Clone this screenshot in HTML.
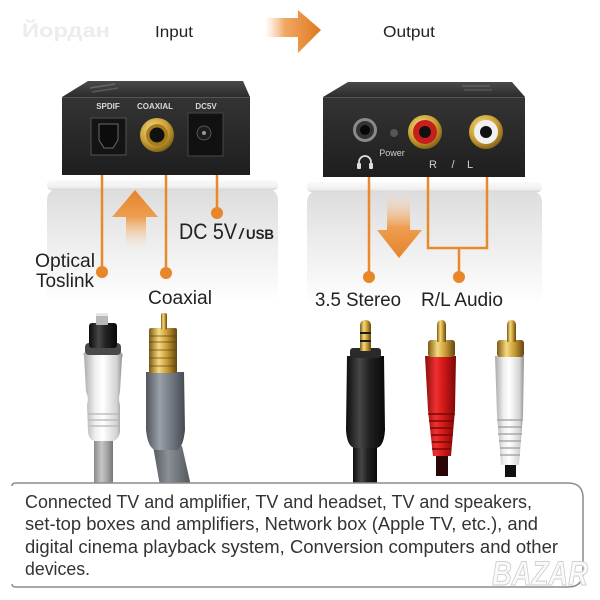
<!DOCTYPE html>
<html><head><meta charset="utf-8">
<style>
html,body{margin:0;padding:0;background:#fff;}
svg{display:block;}
text{font-family:"Liberation Sans","DejaVu Sans",sans-serif;}
</style></head><body>
<svg width="600" height="600" viewBox="0 0 600 600" xmlns="http://www.w3.org/2000/svg">
<defs>
 <linearGradient id="panel" x1="0" y1="0" x2="0" y2="1">
  <stop offset="0" stop-color="#dcdcdc"/>
  <stop offset="0.35" stop-color="#e9e9e9"/>
  <stop offset="1" stop-color="#ffffff"/>
 </linearGradient>
 <linearGradient id="lip" x1="0" y1="0" x2="0" y2="1">
  <stop offset="0" stop-color="#fafafa"/>
  <stop offset="0.7" stop-color="#f0f0f0"/>
  <stop offset="1" stop-color="#d6d6d6"/>
 </linearGradient>
 <linearGradient id="arrR" x1="0" y1="0" x2="1" y2="0">
  <stop offset="0" stop-color="#f6c393" stop-opacity="0"/>
  <stop offset="0.35" stop-color="#f0a865"/>
  <stop offset="1" stop-color="#e0781c"/>
 </linearGradient>
 <linearGradient id="arrUp" x1="0" y1="0" x2="0" y2="1">
  <stop offset="0" stop-color="#e5842a"/>
  <stop offset="0.45" stop-color="#ee9d50"/>
  <stop offset="1" stop-color="#fbe3cc" stop-opacity="0"/>
 </linearGradient>
 <linearGradient id="arrDown" x1="0" y1="1" x2="0" y2="0">
  <stop offset="0" stop-color="#e5842a"/>
  <stop offset="0.45" stop-color="#ee9d50"/>
  <stop offset="1" stop-color="#fbe3cc" stop-opacity="0"/>
 </linearGradient>
 <linearGradient id="front" x1="0" y1="0" x2="0" y2="1">
  <stop offset="0" stop-color="#343434"/>
  <stop offset="1" stop-color="#1e1e1e"/>
 </linearGradient>
 <linearGradient id="topface" x1="0" y1="0" x2="0" y2="1">
  <stop offset="0" stop-color="#4a4a4a"/>
  <stop offset="1" stop-color="#2c2c2c"/>
 </linearGradient>
 <radialGradient id="gold" cx=".4" cy=".35" r=".7">
  <stop offset="0" stop-color="#f7e08a"/>
  <stop offset=".6" stop-color="#caa034"/>
  <stop offset="1" stop-color="#7a5a14"/>
 </radialGradient>
 <linearGradient id="cylWhite" x1="0" x2="1" y1="0" y2="0">
  <stop offset="0" stop-color="#a9a9a9"/>
  <stop offset=".3" stop-color="#efefef"/>
  <stop offset=".5" stop-color="#ffffff"/>
  <stop offset=".85" stop-color="#d2d2d2"/>
  <stop offset="1" stop-color="#8e8e8e"/>
 </linearGradient>
 <linearGradient id="cylGray" x1="0" x2="1" y1="0" y2="0">
  <stop offset="0" stop-color="#50555c"/>
  <stop offset=".35" stop-color="#9aa0a8"/>
  <stop offset=".6" stop-color="#7a8088"/>
  <stop offset="1" stop-color="#454a51"/>
 </linearGradient>
 <linearGradient id="cylBlack" x1="0" x2="1" y1="0" y2="0">
  <stop offset="0" stop-color="#0c0c0c"/>
  <stop offset=".35" stop-color="#474747"/>
  <stop offset=".6" stop-color="#222"/>
  <stop offset="1" stop-color="#080808"/>
 </linearGradient>
 <linearGradient id="cylRed" x1="0" x2="1" y1="0" y2="0">
  <stop offset="0" stop-color="#8a0d0d"/>
  <stop offset=".35" stop-color="#ee3030"/>
  <stop offset=".6" stop-color="#d21818"/>
  <stop offset="1" stop-color="#7a0808"/>
 </linearGradient>
 <linearGradient id="cylGold" x1="0" x2="1" y1="0" y2="0">
  <stop offset="0" stop-color="#7d5a12"/>
  <stop offset=".35" stop-color="#f5da80"/>
  <stop offset=".65" stop-color="#c89a35"/>
  <stop offset="1" stop-color="#634610"/>
 </linearGradient>
 <linearGradient id="cylCable" x1="0" x2="1" y1="0" y2="0">
  <stop offset="0" stop-color="#8a8a8a"/>
  <stop offset=".4" stop-color="#c6c6c6"/>
  <stop offset=".7" stop-color="#a3a3a3"/>
  <stop offset="1" stop-color="#777"/>
 </linearGradient>
 <linearGradient id="cylCoaxCable" x1="0" x2="1" y1="0" y2="0">
  <stop offset="0" stop-color="#555a61"/>
  <stop offset=".4" stop-color="#8b9098"/>
  <stop offset="1" stop-color="#50555b"/>
 </linearGradient>
</defs>

<!-- header -->
<text x="22" y="37" font-size="19" font-weight="bold" fill="#ececec" textLength="88" lengthAdjust="spacingAndGlyphs">Йордан</text>
<text x="155" y="37" font-size="16" fill="#222" textLength="38" lengthAdjust="spacingAndGlyphs">Input</text>
<text x="383" y="37" font-size="16" fill="#222" textLength="52" lengthAdjust="spacingAndGlyphs">Output</text>
<path d="M265,18 L298,18 L298,10 L321,30 L298,53 L298,37 L265,37 Z" fill="url(#arrR)"/>

<!-- panels -->
<rect x="47" y="188" width="231" height="115" rx="12" fill="url(#panel)"/>
<rect x="47" y="180" width="231" height="10" rx="4" fill="url(#lip)"/>
<rect x="307" y="190" width="235" height="115" rx="12" fill="url(#panel)"/>
<rect x="307" y="182" width="235" height="10" rx="4" fill="url(#lip)"/>

<!-- left device -->
<polygon points="62,97 88,81 243,81 250,97" fill="url(#topface)"/>
<line x1="90" y1="88" x2="115" y2="84" stroke="#666" stroke-width="1.5"/>
<line x1="92" y1="92" x2="118" y2="88" stroke="#5a5a5a" stroke-width="1.5"/>
<rect x="62" y="97" width="188" height="78" fill="url(#front)"/>
<line x1="62" y1="97.5" x2="250" y2="97.5" stroke="#555" stroke-width="1"/>
<text x="108" y="109" font-size="8" font-weight="bold" fill="#d8d8d8" text-anchor="middle">SPDIF</text>
<text x="155" y="109" font-size="8" font-weight="bold" fill="#d8d8d8" text-anchor="middle">COAXIAL</text>
<text x="206" y="109" font-size="8" font-weight="bold" fill="#d8d8d8" text-anchor="middle">DC5V</text>
<rect x="91" y="118" width="35" height="37" fill="#141414" stroke="#4a4a4a" stroke-width="1.2"/>
<path d="M99,124 L118,124 L118,140 L113,148 L104,148 L99,140 Z" fill="#0c0c0c" stroke="#6a6a6a" stroke-width="1"/>
<circle cx="157" cy="135" r="17" fill="url(#gold)"/>
<circle cx="157" cy="135" r="11" fill="#a67c1c"/>
<circle cx="157" cy="135" r="7.5" fill="#111"/>
<rect x="188" y="113" width="35" height="43" fill="#111" stroke="#404040" stroke-width="1.2"/>
<circle cx="204" cy="133" r="7" fill="#1c1c1c" stroke="#555" stroke-width="1"/>
<circle cx="204" cy="133" r="2" fill="#999"/>

<!-- right device -->
<polygon points="323,97 348,82 512,82 525,97" fill="url(#topface)"/>
<line x1="462" y1="86" x2="490" y2="86" stroke="#666" stroke-width="1.3"/>
<line x1="464" y1="90" x2="492" y2="90" stroke="#5a5a5a" stroke-width="1.3"/>
<rect x="323" y="97" width="202" height="80" fill="url(#front)"/>
<line x1="323" y1="97.5" x2="525" y2="97.5" stroke="#555" stroke-width="1"/>
<circle cx="365" cy="130" r="12" fill="#8a8a8a"/>
<circle cx="365" cy="130" r="9" fill="#333"/>
<circle cx="365" cy="130" r="5" fill="#080808"/>
<circle cx="394" cy="133" r="4" fill="#555"/>
<text x="392" y="156" font-size="9" fill="#cfcfcf" text-anchor="middle">Power</text>
<path d="M359,168 L359,162 A6,6 0 0 1 371,162 L371,168" fill="none" stroke="#ddd" stroke-width="1.8"/>
<rect x="357" y="163" width="4" height="6" rx="1" fill="#ddd"/>
<rect x="369" y="163" width="4" height="6" rx="1" fill="#ddd"/>
<circle cx="425" cy="132" r="17" fill="url(#gold)"/>
<circle cx="425" cy="132" r="12" fill="#c81e1e"/>
<circle cx="425" cy="132" r="6" fill="#111"/>
<circle cx="486" cy="132" r="17" fill="url(#gold)"/>
<circle cx="486" cy="132" r="12" fill="#f0f0f0"/>
<circle cx="486" cy="132" r="6" fill="#111"/>
<text x="433" y="168" font-size="11" fill="#cfcfcf" text-anchor="middle">R</text>
<text x="453" y="168" font-size="11" fill="#cfcfcf" text-anchor="middle">/</text>
<text x="470" y="168" font-size="11" fill="#cfcfcf" text-anchor="middle">L</text>

<!-- orange connectors left -->
<path d="M126,250 L126,217 L112,217 L135,190 L158,217 L146,217 L146,250 Z" fill="url(#arrUp)"/>
<g stroke="#e8892b" stroke-width="2.5" fill="none">
 <line x1="102" y1="175" x2="102" y2="272"/>
 <line x1="166" y1="175" x2="166" y2="273"/>
 <line x1="217" y1="175" x2="217" y2="213"/>
</g>
<g fill="#e8862a">
 <circle cx="102" cy="272" r="6"/>
 <circle cx="166" cy="273" r="6"/>
 <circle cx="217" cy="213" r="6"/>
</g>

<!-- orange connectors right -->
<path d="M387,190 L410,190 L410,230 L422,230 L399,258 L377,230 L387,230 Z" fill="url(#arrDown)"/>
<g stroke="#e8892b" stroke-width="2.5" fill="none">
 <line x1="369" y1="177" x2="369" y2="277"/>
 <polyline points="428,177 428,248 487,248 487,177"/>
 <line x1="459" y1="248" x2="459" y2="277"/>
</g>
<g fill="#e8862a">
 <circle cx="369" cy="277" r="6"/>
 <circle cx="459" cy="277" r="6"/>
</g>

<!-- labels -->
<text x="179" y="239" font-size="22" fill="#222" textLength="58" lengthAdjust="spacingAndGlyphs">DC 5V</text>
<text x="239" y="239" font-size="15" font-weight="bold" font-style="italic" fill="#222">/</text>
<text x="246" y="239" font-size="14" font-weight="bold" fill="#222" textLength="28" lengthAdjust="spacingAndGlyphs">USB</text>
<text x="35" y="267" font-size="19" fill="#222" textLength="60" lengthAdjust="spacingAndGlyphs">Optical</text>
<text x="36" y="287" font-size="19" fill="#222" textLength="58" lengthAdjust="spacingAndGlyphs">Toslink</text>
<text x="148" y="304" font-size="19" fill="#222" textLength="64" lengthAdjust="spacingAndGlyphs">Coaxial</text>
<text x="315" y="306" font-size="19" fill="#222" textLength="86" lengthAdjust="spacingAndGlyphs">3.5 Stereo</text>
<text x="421" y="306" font-size="19" fill="#222" textLength="82" lengthAdjust="spacingAndGlyphs">R/L Audio</text>

<!-- optical cable -->
<rect x="94" y="436" width="19" height="50" fill="url(#cylCable)"/>
<path d="M84,356 Q82,352 87,352 L119,352 Q124,352 122,358 L120,392 Q118,398 120,405 L120,432 Q118,441 112,441 L96,441 Q89,441 88,432 L87,405 Q89,398 86,392 Z" fill="url(#cylWhite)"/>
<g stroke="#b5b5b5" stroke-width="1.2">
 <line x1="88" y1="414" x2="119" y2="414"/>
 <line x1="88" y1="420" x2="119" y2="420"/>
 <line x1="89" y1="426" x2="119" y2="426"/>
</g>
<rect x="85" y="343" width="36" height="12" rx="4" fill="#4a4a4a"/>
<rect x="89" y="323" width="28" height="25" rx="3" fill="url(#cylBlack)"/>
<rect x="96" y="313" width="12" height="12" rx="1" fill="#b8b8b8"/>
<rect x="96" y="313" width="12" height="3" fill="#e6e6e6"/>

<!-- coaxial cable -->
<path d="M153,446 L182,446 L191,486 L160,486 Z" fill="url(#cylCoaxCable)"/>
<path d="M146,372 L184,372 L185,430 Q183,449 176,450 L156,450 Q148,449 146,430 Z" fill="url(#cylGray)"/>
<rect x="149" y="328" width="28" height="45" rx="2" fill="url(#cylGold)"/>
<g stroke="#5a3f0c" stroke-width="1" opacity="0.7">
 <line x1="149" y1="336" x2="177" y2="336"/>
 <line x1="149" y1="342" x2="177" y2="342"/>
 <line x1="149" y1="350" x2="177" y2="350"/>
 <line x1="149" y1="358" x2="177" y2="358"/>
 <line x1="149" y1="366" x2="177" y2="366"/>
</g>
<rect x="161" y="313" width="6" height="17" rx="2" fill="url(#cylGold)"/>

<!-- 3.5 mm cable -->
<rect x="353" y="440" width="24" height="46" fill="url(#cylBlack)"/>
<path d="M347,356 L384,356 L385,430 Q384,447 376,448 L355,448 Q347,447 346,430 Z" fill="url(#cylBlack)"/>
<rect x="350" y="348" width="31" height="10" rx="3" fill="#2a2a2a"/>
<path d="M360,351 L360,326 Q360,320 365.5,320 Q371,320 371,326 L371,351 Z" fill="url(#cylGold)"/>
<rect x="360" y="332" width="11" height="2" fill="#1a1a1a"/>
<rect x="360" y="340" width="11" height="2" fill="#1a1a1a"/>

<!-- red RCA -->
<rect x="436" y="452" width="12" height="24" fill="#2a0606"/>
<path d="M425,356 L456,356 L455,410 L451,456 L433,456 L428,410 Z" fill="url(#cylRed)"/>
<g stroke="#7a0707" stroke-width="1.5">
 <line x1="428" y1="414" x2="455" y2="414"/>
 <line x1="429" y1="421" x2="454" y2="421"/>
 <line x1="430" y1="428" x2="453" y2="428"/>
 <line x1="431" y1="435" x2="453" y2="435"/>
 <line x1="432" y1="442" x2="452" y2="442"/>
 <line x1="432" y1="449" x2="451" y2="449"/>
</g>
<rect x="428" y="340" width="27" height="17" rx="3" fill="url(#cylGold)"/>
<path d="M437,342 L437,326 Q437,320 441.5,320 Q446,320 446,326 L446,342 Z" fill="url(#cylGold)"/>

<!-- white RCA -->
<rect x="505" y="460" width="11" height="17" fill="#111"/>
<path d="M495,356 L524,356 L523,415 L519,465 L501,465 L497,415 Z" fill="url(#cylWhite)"/>
<g stroke="#9a9a9a" stroke-width="1.3">
 <line x1="497" y1="420" x2="523" y2="420"/>
 <line x1="498" y1="427" x2="522" y2="427"/>
 <line x1="498" y1="434" x2="522" y2="434"/>
 <line x1="499" y1="441" x2="521" y2="441"/>
 <line x1="500" y1="448" x2="520" y2="448"/>
 <line x1="500" y1="455" x2="520" y2="455"/>
</g>
<rect x="497" y="340" width="27" height="17" rx="3" fill="url(#cylGold)"/>
<path d="M507,342 L507,326 Q507,320 511.5,320 Q516,320 516,326 L516,342 Z" fill="url(#cylGold)"/>

<!-- caption box -->
<path d="M12,486 Q12,483 16,483 L568,483 Q583,483 583,498 L583,572 Q583,587 568,587 L16,587 Q12,587 12,584" fill="#fff" stroke="#8c8c8c" stroke-width="1.5"/>
<g font-size="18" fill="#333">
 <text x="25" y="508" textLength="507" lengthAdjust="spacingAndGlyphs">Connected TV and amplifier, TV and headset, TV and speakers,</text>
 <text x="25" y="530" textLength="513" lengthAdjust="spacingAndGlyphs">set-top boxes and amplifiers, Network box (Apple TV, etc.), and</text>
 <text x="25" y="553" textLength="533" lengthAdjust="spacingAndGlyphs">digital cinema playback system, Conversion computers and other</text>
 <text x="25" y="575" textLength="65" lengthAdjust="spacingAndGlyphs">devices.</text>
</g>
<text x="492" y="585" font-size="34" font-weight="bold" font-style="italic" fill="#fafafa" stroke="#cfcfcf" stroke-width="1" textLength="96" lengthAdjust="spacingAndGlyphs">BAZAR</text>
</svg>
</body></html>
